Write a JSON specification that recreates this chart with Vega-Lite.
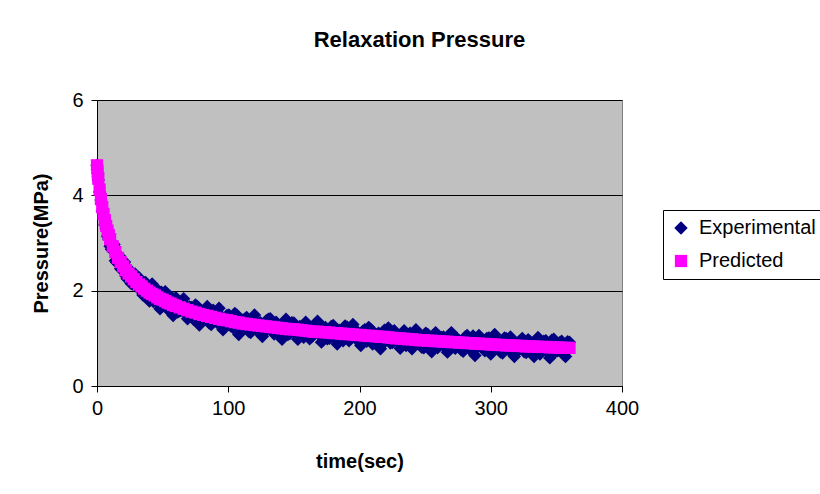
{
  "$schema": "https://vega.github.io/schema/vega-lite/v6.json",
  "width": 525,
  "height": 286,
  "autosize": "none",
  "padding": {"left": 97, "top": 100, "right": 198, "bottom": 108},
  "background": "white",
  "title": {"text": "Relaxation Pressure", "fontSize": 22, "fontWeight": "bold", "font": "Liberation Sans", "color": "black", "anchor": "middle", "dx": 60, "baseline": "alphabetic", "offset": 21},
  "config": {
    "font": "Liberation Sans",
    "view": {"fill": "#C0C0C0", "stroke": "#808080", "strokeWidth": 1}
  },
  "data": {"values": [
{"series":"Experimental","time":0,"pressure":4.63},{"series":"Experimental","time":0.5,"pressure":4.47},{"series":"Experimental","time":1,"pressure":4.32},{"series":"Experimental","time":2,"pressure":4.07},{"series":"Experimental","time":3,"pressure":3.9},{"series":"Experimental","time":4,"pressure":3.67},{"series":"Experimental","time":5,"pressure":3.57},{"series":"Experimental","time":6,"pressure":3.38},{"series":"Experimental","time":7,"pressure":3.3},{"series":"Experimental","time":8,"pressure":3.14},{"series":"Experimental","time":9,"pressure":3.08},{"series":"Experimental","time":10,"pressure":2.93},{"series":"Experimental","time":12,"pressure":2.85},{"series":"Experimental","time":14,"pressure":2.63},{"series":"Experimental","time":16,"pressure":2.64},{"series":"Experimental","time":18,"pressure":2.46},{"series":"Experimental","time":20,"pressure":2.57},{"series":"Experimental","time":22,"pressure":2.31},{"series":"Experimental","time":24,"pressure":2.46},{"series":"Experimental","time":26,"pressure":2.15},{"series":"Experimental","time":28,"pressure":2.32},{"series":"Experimental","time":30,"pressure":2.12},{"series":"Experimental","time":32,"pressure":2.27},{"series":"Experimental","time":34,"pressure":1.99},{"series":"Experimental","time":36,"pressure":2.16},{"series":"Experimental","time":38,"pressure":2.03},{"series":"Experimental","time":40,"pressure":1.78},{"series":"Experimental","time":42,"pressure":2.14},{"series":"Experimental","time":44,"pressure":1.85},{"series":"Experimental","time":46,"pressure":2.02},{"series":"Experimental","time":48,"pressure":1.62},{"series":"Experimental","time":50,"pressure":1.93},{"series":"Experimental","time":52,"pressure":1.98},{"series":"Experimental","time":54,"pressure":1.62},{"series":"Experimental","time":56,"pressure":1.78},{"series":"Experimental","time":58,"pressure":1.48},{"series":"Experimental","time":60,"pressure":1.85},{"series":"Experimental","time":63,"pressure":1.57},{"series":"Experimental","time":66,"pressure":1.83},{"series":"Experimental","time":69,"pressure":1.41},{"series":"Experimental","time":72,"pressure":1.65},{"series":"Experimental","time":75,"pressure":1.7},{"series":"Experimental","time":78,"pressure":1.28},{"series":"Experimental","time":81,"pressure":1.52},{"series":"Experimental","time":84,"pressure":1.67},{"series":"Experimental","time":87,"pressure":1.29},{"series":"Experimental","time":90,"pressure":1.39},{"series":"Experimental","time":93,"pressure":1.63},{"series":"Experimental","time":96,"pressure":1.18},{"series":"Experimental","time":99,"pressure":1.48},{"series":"Experimental","time":102,"pressure":1.26},{"series":"Experimental","time":105,"pressure":1.52},{"series":"Experimental","time":108,"pressure":1.08},{"series":"Experimental","time":111,"pressure":1.38},{"series":"Experimental","time":114,"pressure":1.44},{"series":"Experimental","time":117,"pressure":1.12},{"series":"Experimental","time":120,"pressure":1.49},{"series":"Experimental","time":123,"pressure":1.22},{"series":"Experimental","time":126,"pressure":1.04},{"series":"Experimental","time":129,"pressure":1.37},{"series":"Experimental","time":132,"pressure":1.41},{"series":"Experimental","time":135,"pressure":1.09},{"series":"Experimental","time":138,"pressure":1.26},{"series":"Experimental","time":141,"pressure":0.98},{"series":"Experimental","time":144,"pressure":1.4},{"series":"Experimental","time":147,"pressure":1.1},{"series":"Experimental","time":150,"pressure":1.32},{"series":"Experimental","time":153,"pressure":0.98},{"series":"Experimental","time":156,"pressure":1.25},{"series":"Experimental","time":159,"pressure":1.34},{"series":"Experimental","time":162,"pressure":0.99},{"series":"Experimental","time":165,"pressure":1.11},{"series":"Experimental","time":168,"pressure":1.36},{"series":"Experimental","time":171,"pressure":0.92},{"series":"Experimental","time":174,"pressure":1.23},{"series":"Experimental","time":177,"pressure":1.0},{"series":"Experimental","time":180,"pressure":1.27},{"series":"Experimental","time":183,"pressure":0.88},{"series":"Experimental","time":186,"pressure":1.15},{"series":"Experimental","time":189,"pressure":1.26},{"series":"Experimental","time":192,"pressure":0.95},{"series":"Experimental","time":195,"pressure":1.29},{"series":"Experimental","time":198,"pressure":1.0},{"series":"Experimental","time":201,"pressure":0.85},{"series":"Experimental","time":204,"pressure":1.18},{"series":"Experimental","time":207,"pressure":1.23},{"series":"Experimental","time":210,"pressure":0.88},{"series":"Experimental","time":213,"pressure":1.07},{"series":"Experimental","time":216,"pressure":0.78},{"series":"Experimental","time":219,"pressure":1.17},{"series":"Experimental","time":222,"pressure":1.22},{"series":"Experimental","time":225,"pressure":0.91},{"series":"Experimental","time":228,"pressure":1.09},{"series":"Experimental","time":231,"pressure":0.79},{"series":"Experimental","time":234,"pressure":1.16},{"series":"Experimental","time":237,"pressure":0.94},{"series":"Experimental","time":240,"pressure":0.78},{"series":"Experimental","time":243,"pressure":1.18},{"series":"Experimental","time":246,"pressure":1.03},{"series":"Experimental","time":249,"pressure":0.8},{"series":"Experimental","time":252,"pressure":1.08},{"series":"Experimental","time":255,"pressure":0.72},{"series":"Experimental","time":258,"pressure":1.12},{"series":"Experimental","time":261,"pressure":0.86},{"series":"Experimental","time":264,"pressure":1.03},{"series":"Experimental","time":267,"pressure":0.71},{"series":"Experimental","time":270,"pressure":1.12},{"series":"Experimental","time":273,"pressure":0.79},{"series":"Experimental","time":276,"pressure":0.95},{"series":"Experimental","time":279,"pressure":0.73},{"series":"Experimental","time":282,"pressure":1.06},{"series":"Experimental","time":285,"pressure":0.98},{"series":"Experimental","time":288,"pressure":0.64},{"series":"Experimental","time":291,"pressure":1.06},{"series":"Experimental","time":294,"pressure":0.78},{"series":"Experimental","time":297,"pressure":1.0},{"series":"Experimental","time":300,"pressure":0.67},{"series":"Experimental","time":303,"pressure":1.08},{"series":"Experimental","time":306,"pressure":0.81},{"series":"Experimental","time":309,"pressure":0.69},{"series":"Experimental","time":312,"pressure":0.99},{"series":"Experimental","time":315,"pressure":1.03},{"series":"Experimental","time":318,"pressure":0.62},{"series":"Experimental","time":321,"pressure":0.91},{"series":"Experimental","time":324,"pressure":1.0},{"series":"Experimental","time":327,"pressure":0.7},{"series":"Experimental","time":330,"pressure":0.93},{"series":"Experimental","time":333,"pressure":0.62},{"series":"Experimental","time":336,"pressure":1.02},{"series":"Experimental","time":339,"pressure":0.73},{"series":"Experimental","time":342,"pressure":0.95},{"series":"Experimental","time":345,"pressure":0.59},{"series":"Experimental","time":348,"pressure":0.98},{"series":"Experimental","time":351,"pressure":0.74},{"series":"Experimental","time":354,"pressure":0.94},{"series":"Experimental","time":357,"pressure":0.62},{"series":"Experimental","time":360,"pressure":0.92},
{"series":"Experimental","time":11,"pressure":2.87},{"series":"Experimental","time":13,"pressure":2.97},{"series":"Experimental","time":15,"pressure":2.59},{"series":"Experimental","time":17,"pressure":2.73},{"series":"Experimental","time":19,"pressure":2.44},{"series":"Experimental","time":21,"pressure":2.6},{"series":"Experimental","time":23,"pressure":2.25},{"series":"Experimental","time":25,"pressure":2.42},{"series":"Experimental","time":27,"pressure":2.14},{"series":"Experimental","time":29,"pressure":2.35},{"series":"Experimental","time":31,"pressure":2.06},{"series":"Experimental","time":33,"pressure":2.23},{"series":"Experimental","time":35,"pressure":1.91},{"series":"Experimental","time":37,"pressure":2.17},{"series":"Experimental","time":39,"pressure":1.89},{"series":"Experimental","time":41,"pressure":2.08},{"series":"Experimental","time":43,"pressure":1.77},{"series":"Experimental","time":45,"pressure":1.98},{"series":"Experimental","time":47,"pressure":1.72},{"series":"Experimental","time":49,"pressure":1.97},{"series":"Experimental","time":51,"pressure":1.69},{"series":"Experimental","time":53,"pressure":1.85},{"series":"Experimental","time":55,"pressure":1.58},{"series":"Experimental","time":57,"pressure":1.86},{"series":"Experimental","time":59,"pressure":1.59},
{"series":"Experimental","time":61.5,"pressure":1.55},{"series":"Experimental","time":64.5,"pressure":1.77},{"series":"Experimental","time":67.5,"pressure":1.51},{"series":"Experimental","time":70.5,"pressure":1.66},{"series":"Experimental","time":73.5,"pressure":1.4},{"series":"Experimental","time":76.5,"pressure":1.67},{"series":"Experimental","time":79.5,"pressure":1.44},{"series":"Experimental","time":82.5,"pressure":1.59},{"series":"Experimental","time":85.5,"pressure":1.32},{"series":"Experimental","time":88.5,"pressure":1.59},{"series":"Experimental","time":91.5,"pressure":1.33},{"series":"Experimental","time":94.5,"pressure":1.47},{"series":"Experimental","time":97.5,"pressure":1.24},{"series":"Experimental","time":100.5,"pressure":1.49},{"series":"Experimental","time":103.5,"pressure":1.23},{"series":"Experimental","time":106.5,"pressure":1.49},{"series":"Experimental","time":109.5,"pressure":1.25},{"series":"Experimental","time":112.5,"pressure":1.4},{"series":"Experimental","time":115.5,"pressure":1.15},{"series":"Experimental","time":118.5,"pressure":1.42},{"series":"Experimental","time":121.5,"pressure":1.17},{"series":"Experimental","time":124.5,"pressure":1.33},{"series":"Experimental","time":127.5,"pressure":1.12},{"series":"Experimental","time":130.5,"pressure":1.4},{"series":"Experimental","time":133.5,"pressure":1.16},{"series":"Experimental","time":136.5,"pressure":1.34},{"series":"Experimental","time":139.5,"pressure":1.07},{"series":"Experimental","time":142.5,"pressure":1.3},{"series":"Experimental","time":145.5,"pressure":1.08},{"series":"Experimental","time":148.5,"pressure":1.33},{"series":"Experimental","time":151.5,"pressure":1.09},{"series":"Experimental","time":154.5,"pressure":1.25},{"series":"Experimental","time":157.5,"pressure":1.02},{"series":"Experimental","time":160.5,"pressure":1.28},{"series":"Experimental","time":163.5,"pressure":1.03},{"series":"Experimental","time":166.5,"pressure":1.29},{"series":"Experimental","time":169.5,"pressure":1.07},{"series":"Experimental","time":172.5,"pressure":1.23},{"series":"Experimental","time":175.5,"pressure":0.99},{"series":"Experimental","time":178.5,"pressure":1.25},{"series":"Experimental","time":181.5,"pressure":1.0},{"series":"Experimental","time":184.5,"pressure":1.17},{"series":"Experimental","time":187.5,"pressure":0.95},{"series":"Experimental","time":190.5,"pressure":1.24},{"series":"Experimental","time":193.5,"pressure":1.0},{"series":"Experimental","time":196.5,"pressure":1.19},{"series":"Experimental","time":199.5,"pressure":0.93},{"series":"Experimental","time":202.5,"pressure":1.15},{"series":"Experimental","time":205.5,"pressure":0.94},{"series":"Experimental","time":208.5,"pressure":1.19},{"series":"Experimental","time":211.5,"pressure":0.95},{"series":"Experimental","time":214.5,"pressure":1.11},{"series":"Experimental","time":217.5,"pressure":0.88},{"series":"Experimental","time":220.5,"pressure":1.15},{"series":"Experimental","time":223.5,"pressure":0.9},{"series":"Experimental","time":226.5,"pressure":1.16},{"series":"Experimental","time":229.5,"pressure":0.92},{"series":"Experimental","time":232.5,"pressure":1.1},{"series":"Experimental","time":235.5,"pressure":0.85},{"series":"Experimental","time":238.5,"pressure":1.11},{"series":"Experimental","time":241.5,"pressure":0.87},{"series":"Experimental","time":244.5,"pressure":1.03},{"series":"Experimental","time":247.5,"pressure":0.81},{"series":"Experimental","time":250.5,"pressure":1.11},{"series":"Experimental","time":253.5,"pressure":0.86},{"series":"Experimental","time":256.5,"pressure":1.06},{"series":"Experimental","time":259.5,"pressure":0.8},{"series":"Experimental","time":262.5,"pressure":1.02},{"series":"Experimental","time":265.5,"pressure":0.81},{"series":"Experimental","time":268.5,"pressure":1.07},{"series":"Experimental","time":271.5,"pressure":0.82},{"series":"Experimental","time":274.5,"pressure":0.99},{"series":"Experimental","time":277.5,"pressure":0.76},{"series":"Experimental","time":280.5,"pressure":1.03},{"series":"Experimental","time":283.5,"pressure":0.78},{"series":"Experimental","time":286.5,"pressure":1.05},{"series":"Experimental","time":289.5,"pressure":0.81},{"series":"Experimental","time":292.5,"pressure":0.99},{"series":"Experimental","time":295.5,"pressure":0.74},{"series":"Experimental","time":298.5,"pressure":1.01},{"series":"Experimental","time":301.5,"pressure":0.76},{"series":"Experimental","time":304.5,"pressure":0.93},{"series":"Experimental","time":307.5,"pressure":0.71},{"series":"Experimental","time":310.5,"pressure":1.01},{"series":"Experimental","time":313.5,"pressure":0.76},{"series":"Experimental","time":316.5,"pressure":0.96},{"series":"Experimental","time":319.5,"pressure":0.71},{"series":"Experimental","time":322.5,"pressure":0.92},{"series":"Experimental","time":325.5,"pressure":0.72},{"series":"Experimental","time":328.5,"pressure":0.97},{"series":"Experimental","time":331.5,"pressure":0.73},{"series":"Experimental","time":334.5,"pressure":0.9},{"series":"Experimental","time":337.5,"pressure":0.67},{"series":"Experimental","time":340.5,"pressure":0.94},{"series":"Experimental","time":343.5,"pressure":0.7},{"series":"Experimental","time":346.5,"pressure":0.96},{"series":"Experimental","time":349.5,"pressure":0.73},{"series":"Experimental","time":352.5,"pressure":0.91},{"series":"Experimental","time":355.5,"pressure":0.66},{"series":"Experimental","time":358.5,"pressure":0.93},
{"series":"Predicted","time":0,"pressure":4.63},{"series":"Predicted","time":0.5,"pressure":4.48},{"series":"Predicted","time":1,"pressure":4.35},{"series":"Predicted","time":2,"pressure":4.12},{"series":"Predicted","time":3,"pressure":3.92},{"series":"Predicted","time":4,"pressure":3.75},{"series":"Predicted","time":5,"pressure":3.61},{"series":"Predicted","time":6,"pressure":3.48},{"series":"Predicted","time":7,"pressure":3.36},{"series":"Predicted","time":8,"pressure":3.26},{"series":"Predicted","time":9,"pressure":3.17},{"series":"Predicted","time":10,"pressure":3.08},{"series":"Predicted","time":12,"pressure":2.93},{"series":"Predicted","time":14,"pressure":2.81},{"series":"Predicted","time":16,"pressure":2.69},{"series":"Predicted","time":18,"pressure":2.6},{"series":"Predicted","time":20,"pressure":2.51},{"series":"Predicted","time":22,"pressure":2.43},{"series":"Predicted","time":24,"pressure":2.36},{"series":"Predicted","time":26,"pressure":2.3},{"series":"Predicted","time":28,"pressure":2.24},{"series":"Predicted","time":30,"pressure":2.18},{"series":"Predicted","time":32,"pressure":2.13},{"series":"Predicted","time":34,"pressure":2.09},{"series":"Predicted","time":36,"pressure":2.04},{"series":"Predicted","time":38,"pressure":2.0},{"series":"Predicted","time":40,"pressure":1.96},{"series":"Predicted","time":42,"pressure":1.93},{"series":"Predicted","time":44,"pressure":1.9},{"series":"Predicted","time":46,"pressure":1.86},{"series":"Predicted","time":48,"pressure":1.83},{"series":"Predicted","time":50,"pressure":1.81},{"series":"Predicted","time":52,"pressure":1.78},{"series":"Predicted","time":54,"pressure":1.75},{"series":"Predicted","time":56,"pressure":1.73},{"series":"Predicted","time":58,"pressure":1.7},{"series":"Predicted","time":60,"pressure":1.68},{"series":"Predicted","time":63,"pressure":1.65},{"series":"Predicted","time":66,"pressure":1.62},{"series":"Predicted","time":69,"pressure":1.59},{"series":"Predicted","time":72,"pressure":1.56},{"series":"Predicted","time":75,"pressure":1.54},{"series":"Predicted","time":78,"pressure":1.51},{"series":"Predicted","time":81,"pressure":1.49},{"series":"Predicted","time":84,"pressure":1.47},{"series":"Predicted","time":87,"pressure":1.45},{"series":"Predicted","time":90,"pressure":1.43},{"series":"Predicted","time":93,"pressure":1.41},{"series":"Predicted","time":96,"pressure":1.39},{"series":"Predicted","time":99,"pressure":1.38},{"series":"Predicted","time":102,"pressure":1.36},{"series":"Predicted","time":105,"pressure":1.34},{"series":"Predicted","time":108,"pressure":1.33},{"series":"Predicted","time":111,"pressure":1.31},{"series":"Predicted","time":114,"pressure":1.3},{"series":"Predicted","time":117,"pressure":1.29},{"series":"Predicted","time":120,"pressure":1.28},{"series":"Predicted","time":123,"pressure":1.27},{"series":"Predicted","time":126,"pressure":1.26},{"series":"Predicted","time":129,"pressure":1.25},{"series":"Predicted","time":132,"pressure":1.24},{"series":"Predicted","time":135,"pressure":1.23},{"series":"Predicted","time":138,"pressure":1.22},{"series":"Predicted","time":141,"pressure":1.21},{"series":"Predicted","time":144,"pressure":1.2},{"series":"Predicted","time":147,"pressure":1.19},{"series":"Predicted","time":150,"pressure":1.19},{"series":"Predicted","time":153,"pressure":1.18},{"series":"Predicted","time":156,"pressure":1.17},{"series":"Predicted","time":159,"pressure":1.16},{"series":"Predicted","time":162,"pressure":1.15},{"series":"Predicted","time":165,"pressure":1.14},{"series":"Predicted","time":168,"pressure":1.14},{"series":"Predicted","time":171,"pressure":1.13},{"series":"Predicted","time":174,"pressure":1.13},{"series":"Predicted","time":177,"pressure":1.12},{"series":"Predicted","time":180,"pressure":1.11},{"series":"Predicted","time":183,"pressure":1.11},{"series":"Predicted","time":186,"pressure":1.1},{"series":"Predicted","time":189,"pressure":1.09},{"series":"Predicted","time":192,"pressure":1.09},{"series":"Predicted","time":195,"pressure":1.08},{"series":"Predicted","time":198,"pressure":1.07},{"series":"Predicted","time":201,"pressure":1.07},{"series":"Predicted","time":204,"pressure":1.06},{"series":"Predicted","time":207,"pressure":1.05},{"series":"Predicted","time":210,"pressure":1.05},{"series":"Predicted","time":213,"pressure":1.04},{"series":"Predicted","time":216,"pressure":1.03},{"series":"Predicted","time":219,"pressure":1.03},{"series":"Predicted","time":222,"pressure":1.02},{"series":"Predicted","time":225,"pressure":1.01},{"series":"Predicted","time":228,"pressure":1.0},{"series":"Predicted","time":231,"pressure":1.0},{"series":"Predicted","time":234,"pressure":0.99},{"series":"Predicted","time":237,"pressure":0.98},{"series":"Predicted","time":240,"pressure":0.98},{"series":"Predicted","time":243,"pressure":0.97},{"series":"Predicted","time":246,"pressure":0.96},{"series":"Predicted","time":249,"pressure":0.96},{"series":"Predicted","time":252,"pressure":0.95},{"series":"Predicted","time":255,"pressure":0.95},{"series":"Predicted","time":258,"pressure":0.94},{"series":"Predicted","time":261,"pressure":0.94},{"series":"Predicted","time":264,"pressure":0.93},{"series":"Predicted","time":267,"pressure":0.93},{"series":"Predicted","time":270,"pressure":0.92},{"series":"Predicted","time":273,"pressure":0.92},{"series":"Predicted","time":276,"pressure":0.91},{"series":"Predicted","time":279,"pressure":0.91},{"series":"Predicted","time":282,"pressure":0.9},{"series":"Predicted","time":285,"pressure":0.9},{"series":"Predicted","time":288,"pressure":0.89},{"series":"Predicted","time":291,"pressure":0.89},{"series":"Predicted","time":294,"pressure":0.88},{"series":"Predicted","time":297,"pressure":0.88},{"series":"Predicted","time":300,"pressure":0.87},{"series":"Predicted","time":303,"pressure":0.87},{"series":"Predicted","time":306,"pressure":0.86},{"series":"Predicted","time":309,"pressure":0.86},{"series":"Predicted","time":312,"pressure":0.85},{"series":"Predicted","time":315,"pressure":0.85},{"series":"Predicted","time":318,"pressure":0.85},{"series":"Predicted","time":321,"pressure":0.84},{"series":"Predicted","time":324,"pressure":0.84},{"series":"Predicted","time":327,"pressure":0.83},{"series":"Predicted","time":330,"pressure":0.83},{"series":"Predicted","time":333,"pressure":0.83},{"series":"Predicted","time":336,"pressure":0.82},{"series":"Predicted","time":339,"pressure":0.82},{"series":"Predicted","time":342,"pressure":0.82},{"series":"Predicted","time":345,"pressure":0.81},{"series":"Predicted","time":348,"pressure":0.81},{"series":"Predicted","time":351,"pressure":0.81},{"series":"Predicted","time":354,"pressure":0.8},{"series":"Predicted","time":357,"pressure":0.8},{"series":"Predicted","time":360,"pressure":0.8}
  ]},
  "mark": {"type": "point", "filled": true, "opacity": 1, "strokeWidth": 0},
  "encoding": {
    "x": {"field": "time", "type": "quantitative", "title": "time(sec)",
      "scale": {"domain": [0, 400], "nice": false, "zero": false},
      "axis": {"values": [0, 100, 200, 300, 400], "grid": false, "domainColor": "black", "tickColor": "black", "tickSize": 6, "labelColor": "black", "labelFontSize": 20, "labelPadding": 6, "labelFlush": false, "titleFontSize": 20, "titleFontWeight": "bold", "titleColor": "black", "titlePadding": 33}},
    "y": {"field": "pressure", "type": "quantitative", "title": "Pressure(MPa)",
      "scale": {"domain": [0, 6], "nice": false},
      "axis": {"values": [0, 2, 4, 6], "grid": true, "gridColor": "black", "gridOpacity": 1, "gridWidth": 1, "domainColor": "black", "tickColor": "black", "tickSize": 6, "labelColor": "black", "labelFontSize": 20, "labelPadding": 8, "labelFlush": false, "titleFontSize": 20, "titleFontWeight": "bold", "titleColor": "black", "titlePadding": 20}},
    "size": {"field": "series", "type": "nominal",
      "scale": {"domain": ["Experimental", "Predicted"], "range": [180, 150]},
      "legend": null},
    "color": {"field": "series", "type": "nominal",
      "scale": {"domain": ["Experimental", "Predicted"], "range": ["#000080", "#FF00FF"]},
      "legend": {"title": null, "orient": "none", "legendX": 566, "legendY": 110, "strokeColor": "black", "fillColor": "white", "padding": 8, "labelFontSize": 20, "labelColor": "black", "labelOffset": 8, "rowPadding": 13, "symbolSize": 70, "symbolStrokeWidth": 0}},
    "shape": {"field": "series", "type": "nominal",
      "scale": {"domain": ["Experimental", "Predicted"], "range": ["diamond", "square"]},
      "legend": {"title": null, "orient": "none", "legendX": 566, "legendY": 110, "strokeColor": "black", "fillColor": "white", "padding": 8, "labelFontSize": 20, "labelColor": "black", "labelOffset": 8, "rowPadding": 13, "symbolSize": 70, "symbolStrokeWidth": 0}}
  }
}
